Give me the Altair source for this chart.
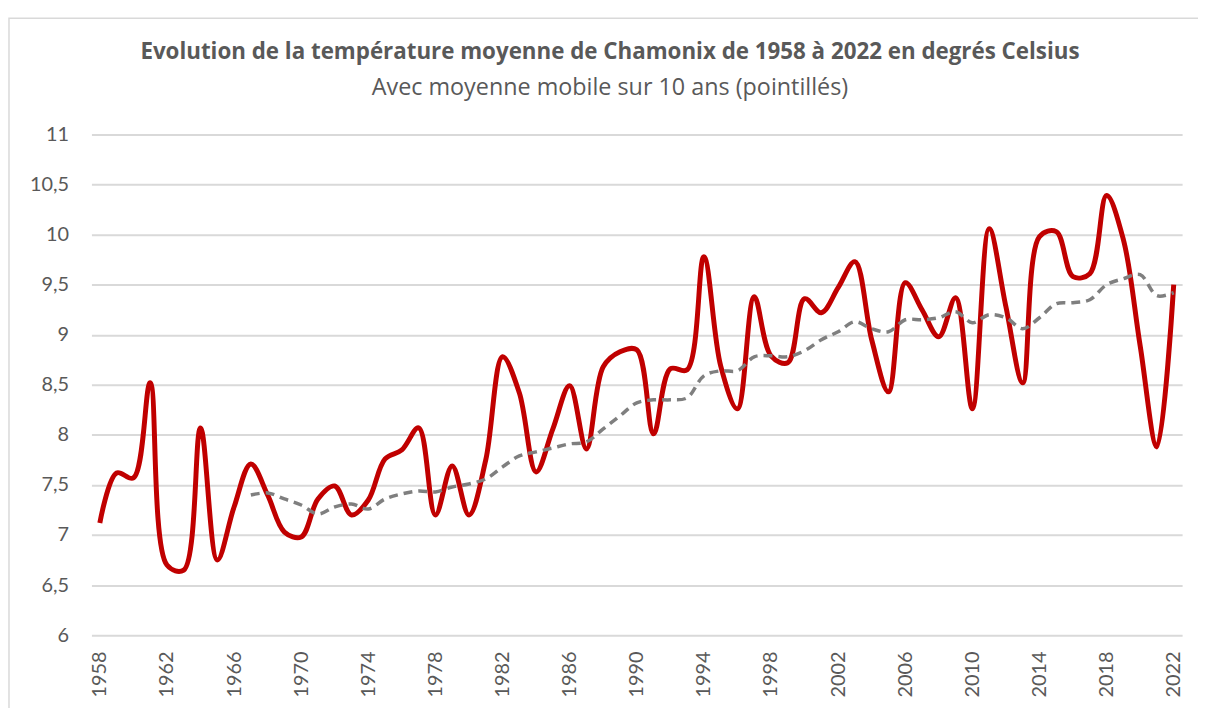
import altair as alt
import pandas as pd

years = list(range(1958, 2023))
temperature = [
    7.12, 7.62, 7.57, 8.52, 6.70, 6.65, 8.07, 6.75, 7.28, 7.71,
    7.40, 7.03, 6.98, 7.36, 7.49, 7.20, 7.35, 7.76, 7.85, 8.07,
    7.20, 7.69, 7.20, 7.75, 8.78, 8.42, 7.63, 8.06, 8.49, 7.86,
    8.68, 8.83, 8.85, 8.01, 8.66, 8.65, 9.78, 8.69, 8.26, 9.38,
    8.79, 8.72, 9.36, 9.22, 9.47, 9.73, 8.95, 8.43, 9.52, 9.25,
    8.98, 9.37, 8.26, 10.06, 9.28, 8.52, 9.98, 10.03, 9.58, 9.61,
    10.39, 9.95, 8.89, 7.88, 9.50,
]
ma_years = list(range(1967, 2023))
moving_avg = [
    7.40, 7.42, 7.36, 7.30, 7.21, 7.28, 7.31, 7.26, 7.36, 7.41,
    7.44, 7.43, 7.48, 7.51, 7.56, 7.68, 7.79, 7.83, 7.87, 7.91,
    7.93, 8.06, 8.19, 8.32, 8.35, 8.35, 8.37, 8.59, 8.64, 8.64,
    8.78, 8.79, 8.78, 8.84, 8.95, 9.03, 9.13, 9.06, 9.03, 9.15,
    9.15, 9.17, 9.23, 9.12, 9.20, 9.17, 9.06, 9.17, 9.31, 9.32,
    9.35, 9.50, 9.56, 9.60, 9.39, 9.42,
]
x_ticks = list(range(1958, 2023, 2))
y_ticks = [6, 6.5, 7, 7.5, 8, 8.5, 9, 9.5, 10, 10.5, 11]

title_text = "Evolution de la température moyenne de Chamonix de 1958 à 2022 en degrés Celsius"
subtitle_text = "Avec moyenne mobile sur 10 ans (pointillés)"

df_t = pd.DataFrame({"annee": years, "temp": temperature})
df_m = pd.DataFrame({"annee": ma_years, "temp": moving_avg})

FONT = "Lato"
TFONT = "Open Sans"
GREY = "#595959"

x_enc = alt.X(
    "annee:Q",
    scale=alt.Scale(domain=[1957.5, 2022.5], nice=False, zero=False),
    axis=alt.Axis(
        values=x_ticks, format="d", labelAngle=270, labelAlign="right",
        labelBaseline="middle", labelPadding=16, grid=False, domain=False,
        ticks=False, tickSize=0, labelFontSize=20, labelColor=GREY,
        labelFont=FONT, title=None, labelOverlap=False,
    ),
)
y_enc = alt.Y(
    "temp:Q",
    scale=alt.Scale(domain=[6, 11], nice=False, zero=False),
    axis=alt.Axis(
        values=y_ticks,
        labelExpr="replace(format(datum.value, '.1~f'), '.', ',')",
        grid=True, gridColor="#d9d9d9", gridWidth=2, domain=False,
        ticks=False, tickSize=0, labelPadding=23, labelFontSize=20,
        labelColor=GREY, labelFont=FONT, title=None,
    ),
)

border = alt.Chart(pd.DataFrame({"b": [0]})).mark_rect(
    fill=None, stroke="#d9d9d9", strokeWidth=1.5
).encode(
    x=alt.value(-83), x2=alt.value(1130), y=alt.value(-117), y2=alt.value(600)
)

red = alt.Chart(df_t).mark_line(
    color="#c00000", strokeWidth=5, interpolate="catmull-rom"
).encode(x=x_enc, y=y_enc)

grey = alt.Chart(df_m).mark_line(
    color="#7f7f7f", strokeWidth=3.5, strokeDash=[9, 6], interpolate="catmull-rom"
).encode(x="annee:Q", y="temp:Q")

chart = alt.layer(border, red, grey).properties(
    width=1098,
    height=504,
    autosize=alt.AutoSizeParams(type="none"),
    padding={"left": 84, "top": 125, "right": 16, "bottom": 71},
    title=alt.TitleParams(
        text=title_text, subtitle=subtitle_text, anchor="middle", dx=-27,
        dy=116, font=TFONT, fontSize=22.5, fontWeight="bold", color=GREY,
        subtitleFont=TFONT, subtitleFontSize=23.5, subtitleColor=GREY,
        subtitlePadding=12, offset=34,
    ),
).configure_view(stroke=None)

chart.save("out.html", embed_options={"renderer": "svg", "actions": False})
